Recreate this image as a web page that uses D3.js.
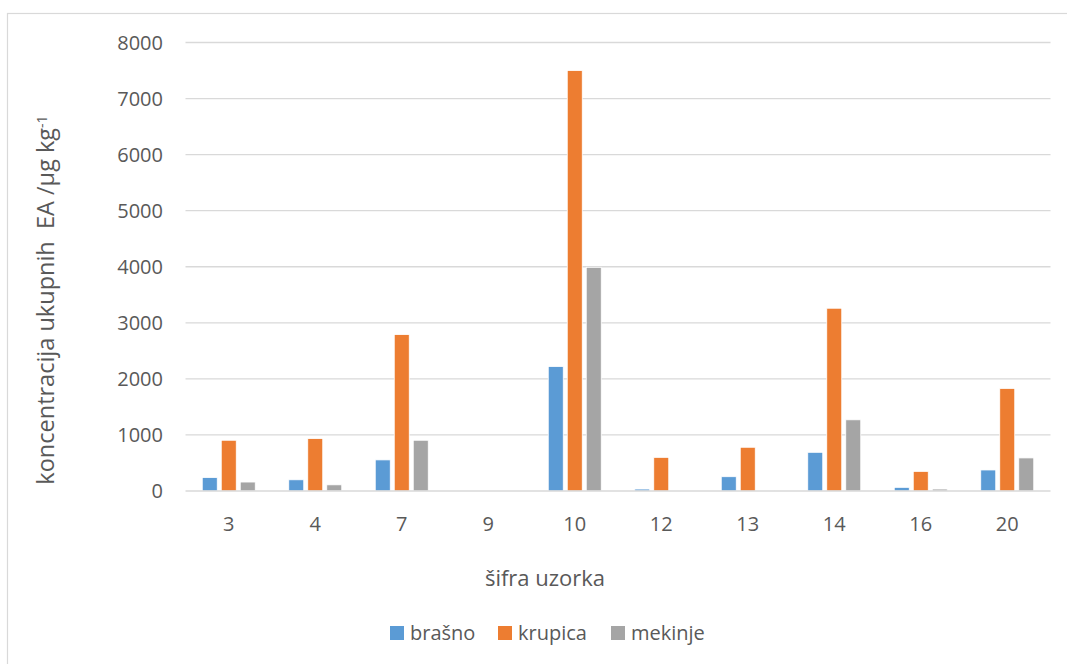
<!DOCTYPE html>
<html>
<head>
<meta charset="utf-8">
<script src="https://cdn.jsdelivr.net/npm/d3@7"></script>
<style>
  html, body { margin: 0; padding: 0; background: #fff; }
  svg text { font-family: "Open Sans", "Noto Sans", sans-serif; fill: #595959; }
</style>
</head>
<body>
<svg id="chart" width="1067" height="664"></svg>
<script>
// Sample codes and measured concentrations (µg/kg) per milling fraction
const categories = ["3", "4", "7", "9", "10", "12", "13", "14", "16", "20"];
const seriesNames = ["brašno", "krupica", "mekinje"];
const brasno  = [240, 200, 555, 0, 2220, 35, 255, 690, 65, 375];
const krupica = [905, 935, 2790, 0, 7500, 600, 780, 3260, 350, 1830];
const mekinje = [160, 110, 905, 0, 3990, 0, 10, 1270, 35, 590];
const yTicks = [0, 1000, 2000, 3000, 4000, 5000, 6000, 7000, 8000];
const colors = ["#5b9bd5", "#ed7d31", "#a5a5a5"];

const series = [brasno, krupica, mekinje];
const svg = d3.select("#chart");

// outer chart frame
svg.append("rect")
  .attr("x", 7.5).attr("y", 13.5)
  .attr("width", 1070).attr("height", 700)
  .attr("fill", "none").attr("stroke", "#d9d9d9").attr("stroke-width", 1.2);

const plot = { left: 185.5, right: 1050.5, top: 42.5, bottom: 491 };

const x = d3.scaleBand().domain(categories).range([plot.left, plot.right]);
const y = d3.scaleLinear().domain([0, 8000]).range([plot.bottom, plot.top]);
const barW = 15, gap = 4;
const xs = d3.scaleBand().domain(seriesNames)
  .range([0, 3 * barW + 2 * gap]).paddingInner(gap / (barW + gap));

// gridlines
svg.append("g")
  .selectAll("line").data(yTicks.slice(1)).join("line")
  .attr("x1", plot.left).attr("x2", plot.right)
  .attr("y1", d => y(d)).attr("y2", d => y(d))
  .attr("stroke", "#d9d9d9").attr("stroke-width", 1.3);

// y tick labels
svg.append("g")
  .selectAll("text").data(yTicks).join("text")
  .attr("x", 163).attr("y", d => y(d))
  .attr("dy", "0.35em").attr("text-anchor", "end")
  .attr("font-size", 20)
  .text(d => d);

// bars
const groupOffset = (x.bandwidth() - (3 * barW + 2 * gap)) / 2;
seriesNames.forEach((name, si) => {
  svg.append("g")
    .selectAll("rect").data(series[si]).join("rect")
    .attr("x", (d, i) => x(categories[i]) + groupOffset + xs(name))
    .attr("y", d => y(d))
    .attr("width", xs.bandwidth())
    .attr("height", d => y(0) - y(d))
    .attr("fill", colors[si])
    .attr("stroke", "#fff").attr("stroke-width", 0.8);
});

// baseline axis
svg.append("line")
  .attr("x1", plot.left).attr("x2", plot.right)
  .attr("y1", y(0)).attr("y2", y(0))
  .attr("stroke", "#d9d9d9").attr("stroke-width", 1.5);

// x tick labels
svg.append("g")
  .selectAll("text").data(categories).join("text")
  .attr("x", d => x(d) + x.bandwidth() / 2).attr("y", 524)
  .attr("dy", "0.35em").attr("text-anchor", "middle")
  .attr("font-size", 20)
  .text(d => d);

// axis titles
svg.append("text")
  .attr("x", 545).attr("y", 578).attr("dy", "0.35em")
  .attr("text-anchor", "middle").attr("font-size", 22)
  .text("šifra uzorka");

const yTitle = svg.append("text")
  .attr("transform", "translate(46,300) rotate(-90)")
  .attr("dy", "0.35em")
  .attr("text-anchor", "middle").attr("font-size", 23.5);
yTitle.append("tspan").text("koncentracija ukupnih\u00A0 EA /µg kg");
yTitle.append("tspan").attr("dy", "-0.5em").attr("font-size", 14).text("-1");

// legend
const legendItems = [
  { name: seriesNames[0], x: 390 },
  { name: seriesNames[1], x: 498 },
  { name: seriesNames[2], x: 611 }
];
const lg = svg.append("g").selectAll("g").data(legendItems).join("g")
  .attr("transform", d => `translate(${d.x},633)`);
lg.append("rect").attr("x", 0).attr("y", -7).attr("width", 14).attr("height", 14)
  .attr("fill", (d, i) => colors[i]);
lg.append("text").attr("x", 20).attr("y", 0).attr("dy", "0.35em")
  .attr("font-size", 20).text(d => d.name);
</script>
</body>
</html>
